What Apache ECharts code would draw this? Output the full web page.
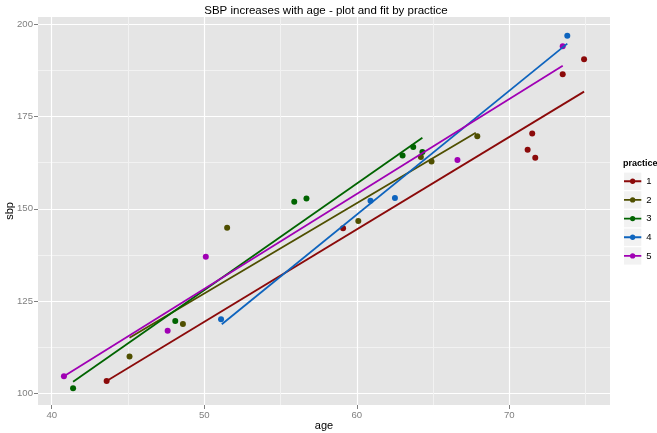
<!DOCTYPE html>
<html><head><meta charset="utf-8">
<script src="https://cdn.jsdelivr.net/npm/echarts@6/dist/echarts.min.js"></script>
<style>html,body{margin:0;padding:0;background:#fff}#c{width:657px;height:433px}</style>
</head><body><div id="c"></div>
<script>
// ---- data ----
const practices = ['1', '2', '3', '4', '5'];
const colors = ['#8B0A0A', '#4F4F00', '#006400', '#0E64BE', '#A000B4'];

const age1 = [43.6, 59.1, 71.5, 71.2, 71.7, 73.5, 74.9];
const sbp1 = [103.4, 144.7, 170.4, 166.0, 163.8, 186.4, 190.5];
const age2 = [45.1, 48.6, 51.5, 60.1, 64.2, 64.9, 67.9];
const sbp2 = [110.0, 118.8, 144.9, 146.7, 164.0, 162.8, 169.6];
const age3 = [41.4, 48.1, 55.9, 56.7, 63.0, 63.7, 64.3];
const sbp3 = [101.4, 119.6, 151.9, 152.8, 164.4, 166.7, 165.4];
const age4 = [51.1, 60.9, 62.5, 73.8];
const sbp4 = [120.1, 152.2, 152.9, 196.8];
const age5 = [40.8, 47.6, 50.1, 66.6, 73.5];
const sbp5 = [104.7, 117.0, 137.0, 163.2, 194.0];

// fitted line end points (age, sbp)
const fitAge1 = [43.6, 74.9];  const fitSbp1 = [103.4, 181.7];
const fitAge2 = [45.1, 67.8];  const fitSbp2 = [115.1, 170.6];
const fitAge3 = [41.4, 64.3];  const fitSbp3 = [103.2, 169.2];
const fitAge4 = [51.15, 73.8]; const fitSbp4 = [118.75, 194.7];
const fitAge5 = [40.8, 73.5];  const fitSbp5 = [104.7, 188.7];

const xTicks = [40, 50, 60, 70];
const xMinor = [45, 55, 65, 75];
const yTicks = [100, 125, 150, 175, 200];
const yMinor = [112.5, 137.5, 162.5, 187.5];

// ---- build ----
const ages = [age1, age2, age3, age4, age5];
const sbps = [sbp1, sbp2, sbp3, sbp4, sbp5];
const fitAges = [fitAge1, fitAge2, fitAge3, fitAge4, fitAge5];
const fitSbps = [fitSbp1, fitSbp2, fitSbp3, fitSbp4, fitSbp5];
const zip = (a, b) => a.map((v, i) => [v, b[i]]);

const X_MIN = 39.1, X_MAX = 76.6, Y_MIN = 96.9, Y_MAX = 201.9;
const FONT = 'Liberation Sans, Arial, sans-serif';
const tickColor = '#7F7F7F';

const series = [];
practices.forEach((p, i) => {
  series.push({
    name: p, type: 'scatter', data: zip(ages[i], sbps[i]),
    symbol: 'circle', symbolSize: 6, z: 2,
    itemStyle: { color: colors[i], opacity: 1 },
    emphasis: { disabled: true }, animation: false
  });
});
practices.forEach((p, i) => {
  series.push({
    name: p, type: 'line', data: zip(fitAges[i], fitSbps[i]),
    showSymbol: false, symbol: 'none', z: 3,
    lineStyle: { color: colors[i], width: 1.8 },
    itemStyle: { color: colors[i] },
    emphasis: { disabled: true }, animation: false
  });
});

const keyIcon = 'path://M0,7.6 L17,7.6 L17,9.4 L0,9.4 Z M8.5,5.9 A2.6,2.6 0 1 1 8.49,5.9 Z';
const legendTop = 172.6, legendStep = 18.67, keySize = 17.3;
const keyRects = practices.map((p, i) => ({
  type: 'rect', left: 624, top: legendTop + i * legendStep, z: 0,
  shape: { width: keySize, height: keySize }, style: { fill: '#F2F2F2' }
}));

const chart = echarts.init(document.getElementById('c'), null, { renderer: 'canvas' });
chart.setOption({
  animation: false,
  backgroundColor: '#FFFFFF',
  title: {
    text: 'SBP increases with age - plot and fit by practice',
    left: 321, top: 0, textAlign: 'center',
    textStyle: { fontFamily: FONT, fontSize: 11.5, fontWeight: 'normal', color: '#000' }
  },
  grid: {
    left: 38, right: 47, top: 17, bottom: 28, show: true,
    backgroundColor: '#E5E5E5', borderWidth: 0, containLabel: false,
    outerBoundsMode: 'none'
  },
  xAxis: [{
    type: 'value', min: X_MIN, max: X_MAX,
    name: 'age', nameLocation: 'middle', nameGap: 15, nameMoveOverlap: false,
    nameTextStyle: { fontFamily: FONT, fontSize: 11, color: '#000' },
    axisLine: { show: false },
    axisTick: { show: true, length: 4, customValues: xTicks, lineStyle: { color: tickColor } },
    axisLabel: { customValues: xTicks, margin: 5, fontFamily: FONT, fontSize: 9.6, color: tickColor },
    splitLine: { show: true, lineStyle: { color: '#FFFFFF', width: 1.2 } }
  }, {
    type: 'value', min: X_MIN, max: X_MAX, position: 'bottom',
    axisLine: { show: false },
    axisTick: { show: false, customValues: xMinor },
    axisLabel: { show: false, customValues: xMinor },
    splitLine: { show: true, lineStyle: { color: '#F2F2F2', width: 1 } }
  }],
  yAxis: [{
    type: 'value', min: Y_MIN, max: Y_MAX,
    name: 'sbp', nameLocation: 'middle', nameGap: 23, nameMoveOverlap: false,
    nameTextStyle: { fontFamily: FONT, fontSize: 11, color: '#000' },
    axisLine: { show: false },
    axisTick: { show: true, length: 4, customValues: yTicks, lineStyle: { color: tickColor } },
    axisLabel: { customValues: yTicks, margin: 5, fontFamily: FONT, fontSize: 9.6, color: tickColor },
    splitLine: { show: true, lineStyle: { color: '#FFFFFF', width: 1.2 } }
  }, {
    type: 'value', min: Y_MIN, max: Y_MAX, position: 'left',
    axisLine: { show: false },
    axisTick: { show: false, customValues: yMinor },
    axisLabel: { show: false, customValues: yMinor },
    splitLine: { show: true, lineStyle: { color: '#F2F2F2', width: 1 } }
  }],
  legend: {
    orient: 'vertical', left: 624, top: legendTop, padding: 0,
    itemWidth: keySize, itemHeight: keySize, itemGap: legendStep - keySize,
    data: practices.map(p => ({ name: p, icon: keyIcon })),
    textStyle: { fontFamily: FONT, fontSize: 9.5, color: '#000', lineHeight: keySize },
    selectedMode: false
  },
  graphic: [
    ...keyRects,
    { type: 'text', left: 623, top: 159, z: 5,
      style: { text: 'practice', fontFamily: FONT, fontSize: 9, fontWeight: 'bold', fill: '#000' } }
  ],
  series: series
});
</script>
</body></html>
